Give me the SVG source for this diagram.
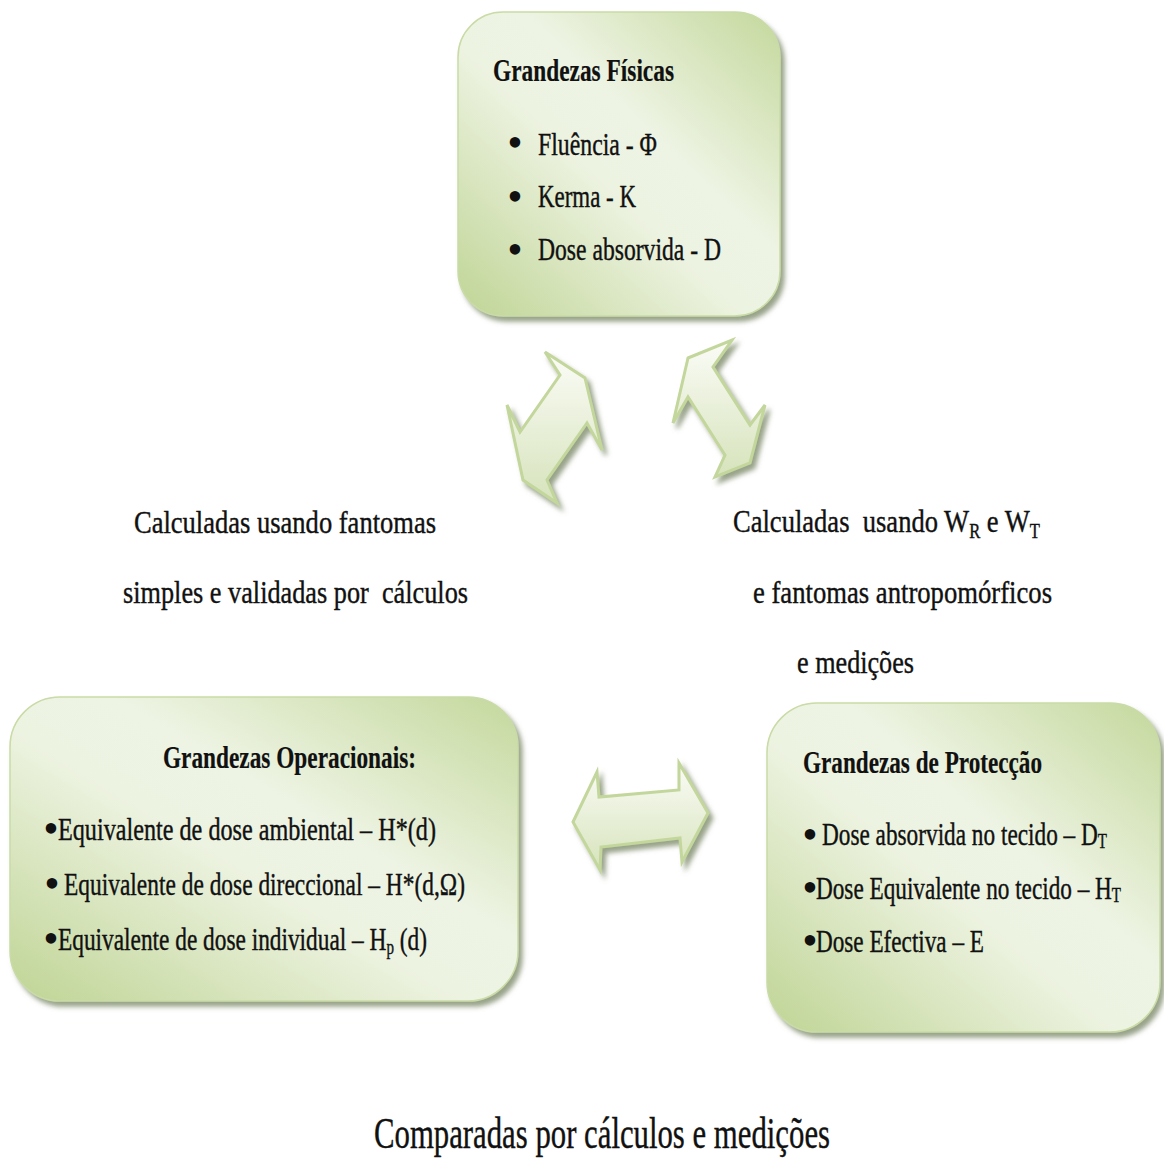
<svg xmlns="http://www.w3.org/2000/svg" width="1164" height="1158" viewBox="0 0 1164 1158">
<defs>
  <linearGradient id="boxFill" x1="0" y1="1" x2="1" y2="0">
    <stop offset="0" stop-color="#bfd494"/>
    <stop offset="0.45" stop-color="#edf3e1"/>
    <stop offset="0.6" stop-color="#eef4e4"/>
    <stop offset="1" stop-color="#c4d89c"/>
  </linearGradient>
  <linearGradient id="arrowFill" x1="0" y1="0" x2="0" y2="1">
    <stop offset="0" stop-color="#fbfcf7"/>
    <stop offset="1" stop-color="#d6e3bb"/>
  </linearGradient>
  <filter id="shadow" x="-10%" y="-10%" width="125%" height="125%">
    <feGaussianBlur in="SourceAlpha" stdDeviation="2.5"/>
    <feOffset dx="4" dy="5" result="b"/>
    <feFlood flood-color="#7f8c6c" flood-opacity="0.8"/>
    <feComposite in2="b" operator="in"/>
    <feMerge><feMergeNode/><feMergeNode in="SourceGraphic"/></feMerge>
  </filter>
</defs>
<style>
  .box { fill: url(#boxFill); stroke: #c9dba6; stroke-width: 1.5; filter: url(#shadow); }
  .arrow { fill: url(#arrowFill); stroke: #c3d69b; stroke-width: 3; stroke-linejoin: miter; filter: url(#shadow); }
  text { font-family: "Liberation Serif", "Times New Roman", serif; fill: #111111; stroke: #111111; stroke-width: 0.4; }
  .h { font-size: 32px; font-weight: bold; stroke-width: 0.2; }
  .b { font-size: 31px; }
  .l { font-size: 32px; }
  .big { font-size: 44px; }
  .bul { font-size: 44px; text-anchor: middle; dominant-baseline: central; stroke-width: 0; }
  .sub { font-size: 20px; }
</style>
<rect width="1164" height="1158" fill="#ffffff"/>

<g id="connectors">
  <polygon id="arrow-fisicas-operacionais" class="arrow" points="585,378 602,450 587,423 547,480 557,503 523,480 507,405 520,432 560,375 545,352"/>
  <polygon id="arrow-fisicas-proteccao" class="arrow" points="688,358 732,340 713,367 750,425 765,405 750,463 715,477 725,455 688,397 673,423"/>
  <polygon id="arrow-operacionais-proteccao" class="arrow" points="573,822 597,772 599,797 679,790 679,763 708,813 682,862 680,838 601,847 600,870"/>
</g>

<g id="node-fisicas">
  <rect class="box" x="458" y="12" width="322" height="304" rx="45" ry="45"/>
  <text class="h" x="493" y="81" textLength="181" lengthAdjust="spacingAndGlyphs">Grandezas Físicas</text>
  <text class="bul" x="515" y="142">•</text>
  <text class="b" x="538" y="155" textLength="119" lengthAdjust="spacingAndGlyphs">Fluência - Φ</text>
  <text class="bul" x="515" y="196">•</text>
  <text class="b" x="538" y="207" textLength="98" lengthAdjust="spacingAndGlyphs">Kerma - K</text>
  <text class="bul" x="515" y="249">•</text>
  <text class="b" x="538" y="260" textLength="183" lengthAdjust="spacingAndGlyphs">Dose absorvida - D</text>
</g>

<g id="node-operacionais">
  <rect class="box" x="10" y="697" width="508" height="304" rx="50" ry="50"/>
  <text class="h" x="163" y="768" textLength="253" lengthAdjust="spacingAndGlyphs">Grandezas Operacionais:</text>
  <text class="bul" x="51" y="828">•</text>
  <text class="b" x="58" y="840" textLength="378" lengthAdjust="spacingAndGlyphs">Equivalente de dose ambiental – H*(d)</text>
  <text class="bul" x="52" y="883">•</text>
  <text class="b" x="64" y="895" textLength="401" lengthAdjust="spacingAndGlyphs">Equivalente de dose direccional – H*(d,Ω)</text>
  <text class="bul" x="51" y="938">•</text>
  <text class="b" x="58" y="950" textLength="369" lengthAdjust="spacingAndGlyphs">Equivalente de dose individual – H<tspan class="sub" dy="4">p</tspan><tspan dy="-4"> (d)</tspan></text>
</g>

<g id="node-proteccao">
  <rect class="box" x="767" y="703" width="393" height="329" rx="50" ry="50"/>
  <text class="h" x="803" y="773" textLength="239" lengthAdjust="spacingAndGlyphs">Grandezas de Protecção</text>
  <text class="bul" x="810" y="834">•</text>
  <text class="b" x="822" y="845" textLength="285" lengthAdjust="spacingAndGlyphs">Dose absorvida no tecido – D<tspan class="sub" dy="3">T</tspan></text>
  <text class="bul" x="810" y="887">•</text>
  <text class="b" x="816" y="899" textLength="305" lengthAdjust="spacingAndGlyphs">Dose Equivalente no tecido – H<tspan class="sub" dy="3">T</tspan></text>
  <text class="bul" x="810" y="940">•</text>
  <text class="b" x="816" y="952" textLength="168" lengthAdjust="spacingAndGlyphs">Dose Efectiva – E</text>
</g>

<g id="labels">
  <text class="l" x="134" y="533" textLength="302" lengthAdjust="spacingAndGlyphs">Calculadas usando fantomas</text>
  <text class="l" x="123" y="603" textLength="345" lengthAdjust="spacingAndGlyphs" xml:space="preserve">simples e validadas por  cálculos</text>
  <text class="l" x="733" y="532" textLength="307" lengthAdjust="spacingAndGlyphs" xml:space="preserve">Calculadas  usando W<tspan class="sub" dy="6">R</tspan><tspan dy="-6"> e W</tspan><tspan class="sub" dy="6">T</tspan></text>
  <text class="l" x="753" y="603" textLength="299" lengthAdjust="spacingAndGlyphs">e fantomas antropomórficos</text>
  <text class="l" x="797" y="673" textLength="117" lengthAdjust="spacingAndGlyphs">e medições</text>
  <text class="big" x="374" y="1148" textLength="456" lengthAdjust="spacingAndGlyphs">Comparadas por cálculos e medições</text>
</g>
</svg>
